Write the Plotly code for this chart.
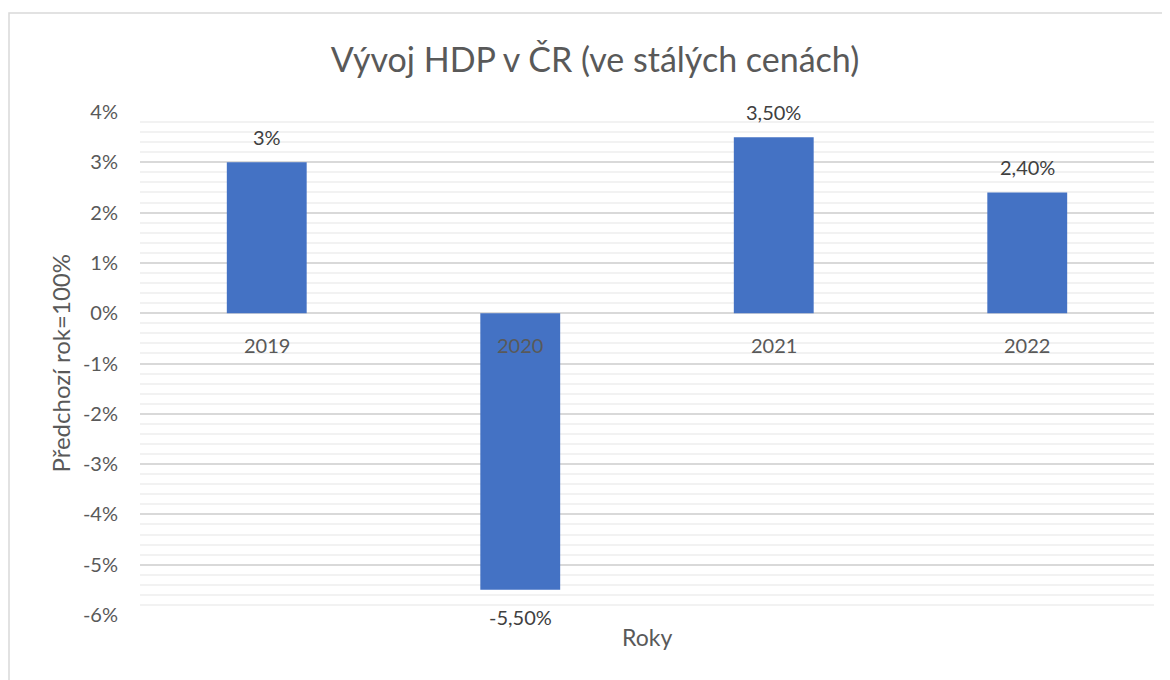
import plotly.graph_objects as go

categories = ["2019", "2020", "2021", "2022"]
values = [3.0, -5.5, 3.5, 2.4]
value_labels = ["3%", "-5,50%", "3,50%", "2,40%"]
tick_vals = [4, 3, 2, 1, 0, -1, -2, -3, -4, -5, -6]
tick_text = ["4%", "3%", "2%", "1%", "0%", "-1%", "-2%", "-3%", "-4%", "-5%", "-6%"]

title_text = "Vývoj HDP v ČR (ve stálých cenách)"
x_title = "Roky"
y_title = "Předchozí rok=100%"

FONT = "Lato"
TXT = "#595959"

W, H = 1162, 672
L, R, T, B = 132, 16, 104, 65
PW = W - L - R
PH = H - T - B

fig = go.Figure()
fig.add_trace(go.Bar(
    x=categories, y=values,
    marker=dict(color="#4472C4", line=dict(width=0)),
    width=0.315,
    hoverinfo="x+y",
))

annotations = []
for i, (c, v, t) in enumerate(zip(categories, values, value_labels)):
    annotations.append(dict(
        x=i, y=v, xref="x", yref="y", text=t, showarrow=False,
        yanchor="middle", yshift=25 if v >= 0 else -27,
        font=dict(family=FONT, size=20, color="#404040"),
    ))
    annotations.append(dict(
        x=i, y=0, xref="x", yref="y", text=c, showarrow=False,
        yanchor="middle", yshift=-32,
        font=dict(family=FONT, size=20, color=TXT),
    ))

annotations.append(dict(
    x=0.5, y=-22 / PH, xref="paper", yref="paper", text=x_title, showarrow=False,
    yanchor="middle", xanchor="center",
    font=dict(family=FONT, size=23, color=TXT),
))
annotations.append(dict(
    x=-80 / PW, y=0.5, xref="paper", yref="paper", text=y_title, showarrow=False,
    textangle=-90, xanchor="center", yanchor="middle",
    font=dict(family=FONT, size=24, color=TXT),
))

fig.update_layout(
    width=W, height=H,
    margin=dict(l=L, r=R, t=T, b=B),
    paper_bgcolor="white", plot_bgcolor="white",
    showlegend=False,
    title=dict(text=title_text, x=587 / W, xanchor="center", y=1 - 52 / H, yanchor="middle",
               font=dict(family=FONT, size=34, color=TXT)),
    xaxis=dict(type="category", showgrid=False, showticklabels=False, zeroline=False,
               showline=False, range=[-0.5, 3.5], fixedrange=True),
    yaxis=dict(range=[-6, 4], tickvals=tick_vals, ticktext=tick_text,
               showgrid=True, gridcolor="#D9D9D9", gridwidth=1.5,
               zeroline=True, zerolinecolor="#D9D9D9", zerolinewidth=1.5,
               showline=False, ticks="", ticklabelstandoff=21,
               tickfont=dict(family=FONT, size=20, color=TXT),
               minor=dict(dtick=0.2, showgrid=True, gridcolor="#F2F2F2", gridwidth=1.5),
               fixedrange=True),
    annotations=annotations,
    shapes=[dict(type="rect", xref="paper", yref="paper",
                 x0=(-L + 1) / PW, x1=(W - L + 20) / PW, y0=-(B + 20) / PH, y1=(PH + T - 5) / PH,
                 line=dict(color="#D9D9D9", width=1.5), fillcolor="rgba(0,0,0,0)",
                 layer="below")],
)

fig.write_html("out.html")
